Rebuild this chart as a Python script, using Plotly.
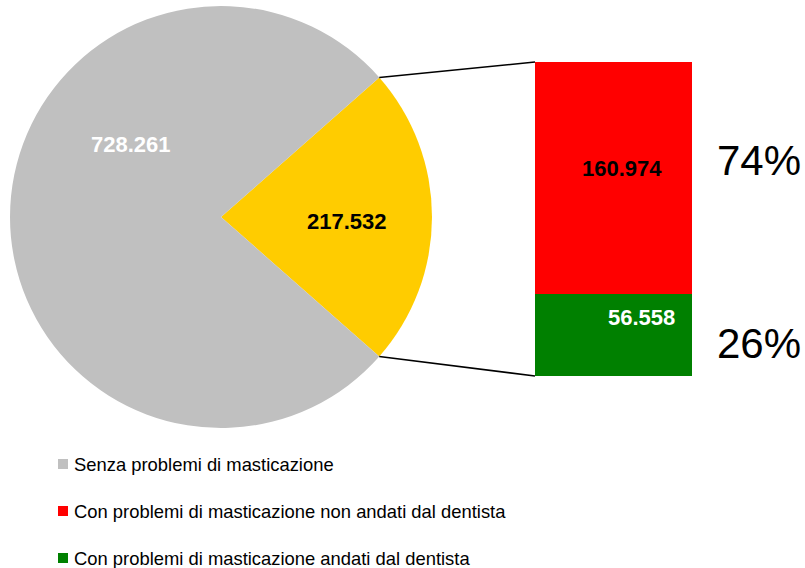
import math
import plotly.graph_objects as go

# ---- data ----
pie_labels = ["Con problemi di masticazione", "Senza problemi di masticazione"]
pie_values = [217532, 728261]
pie_colors = ["#FFCC00", "#C0C0C0"]

bar_labels = ["Con problemi di masticazione andati dal dentista",
              "Con problemi di masticazione non andati dal dentista"]
bar_values = [56558, 160974]
bar_colors = ["#008000", "#FF0000"]
bar_pct = ["26%", "74%"]

legend_labels = ["Senza problemi di masticazione",
                 "Con problemi di masticazione non andati dal dentista",
                 "Con problemi di masticazione andati dal dentista"]
legend_colors = ["#C0C0C0", "#FF0000", "#008000"]

W, H = 805, 568
FONT = "Liberation Sans, Arial, sans-serif"

def px(x):
    return x / W

def py(y):
    return 1 - y / H

def fmt(v):
    return f"{v:,}".replace(",", ".")

# pie geometry (pixels)
cx, cy, r = 221, 217, 211
total = sum(pie_values)
half = 0.5 * pie_values[0] / total * 360

fig = go.Figure()
fig.add_trace(go.Pie(
    labels=pie_labels, values=pie_values, sort=False, direction="clockwise",
    rotation=90 - half, marker=dict(colors=pie_colors, line=dict(width=0)),
    textinfo="none", hoverinfo="label+value", showlegend=False,
    domain=dict(x=[px(cx - r), px(cx + r)], y=[py(cy + r), py(cy - r)]),
))

bx0, bx1, by0, by1 = 535, 692, 62, 376
for lab, v, c in zip(bar_labels, bar_values, bar_colors):
    fig.add_trace(go.Bar(x=[0], y=[v], name=lab, marker=dict(color=c, line=dict(width=0)),
                         width=1, showlegend=False, hoverinfo="name+y"))

fig.update_layout(
    barmode="stack", width=W, height=H, margin=dict(l=0, r=0, t=0, b=0),
    paper_bgcolor="white", plot_bgcolor="white",
    xaxis=dict(domain=[px(bx0), px(bx1)], range=[-0.5, 0.5], visible=False, fixedrange=True),
    yaxis=dict(domain=[py(by1), py(by0)], range=[0, sum(bar_values)], visible=False, fixedrange=True),
    font=dict(family=FONT),
)

# connector lines
a = math.radians(half)
ex = cx + r * math.cos(a)
for ey, byy in [(cy - r * math.sin(a), by0), (cy + r * math.sin(a), by1)]:
    fig.add_shape(type="line", xref="paper", yref="paper",
                  x0=px(ex), y0=py(ey), x1=px(bx0), y1=py(byy),
                  line=dict(color="black", width=1.5))

ann = []
# pie value labels
ann.append(dict(x=px(131), y=py(144), text=f"<b>{fmt(pie_values[1])}</b>",
                font=dict(color="white", size=22, family=FONT)))
ann.append(dict(x=px(347), y=py(221), text=f"<b>{fmt(pie_values[0])}</b>",
                font=dict(color="black", size=22, family=FONT)))
# bar value labels
ann.append(dict(x=px(622), y=py(168), text=f"<b>{fmt(bar_values[1])}</b>",
                font=dict(color="black", size=22, family=FONT)))
ann.append(dict(x=px(641), y=py(317), text=f"<b>{fmt(bar_values[0])}</b>",
                font=dict(color="white", size=22, family=FONT)))
# percentages
ann.append(dict(x=px(759), y=py(160), text=bar_pct[1], font=dict(color="black", size=42, family=FONT)))
ann.append(dict(x=px(759), y=py(343), text=bar_pct[0], font=dict(color="black", size=42, family=FONT)))

# legend
for i, (lab, c) in enumerate(zip(legend_labels, legend_colors)):
    yy = 464 + 47 * i
    fig.add_shape(type="rect", xref="paper", yref="paper",
                  x0=px(58), x1=px(68), y0=py(yy + 5), y1=py(yy - 5),
                  fillcolor=c, line=dict(width=0))
    ann.append(dict(x=px(72), y=py(yy), text=lab, xanchor="left",
                    font=dict(color="black", size=18.4, family=FONT)))

for d in ann:
    d.setdefault("xanchor", "center")
    d.update(xref="paper", yref="paper", showarrow=False, yanchor="middle")
    fig.add_annotation(**d)

fig.write_html("out.html", config={"displayModeBar": False},
               post_script="document.body.style.margin='0px';document.body.style.overflow='hidden';")
